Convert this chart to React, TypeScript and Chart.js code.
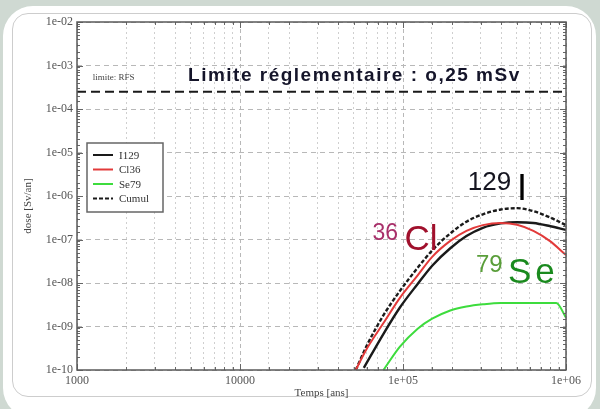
import { useEffect, useRef } from "react";
import { Chart, registerables } from "chart.js";

Chart.register(...registerables);

// ---- Data (time in years, dose in Sv/an) ----
const cumulYears = [51300, 60300, 75900, 95500, 123000, 151000, 195000, 245000, 309000, 398000, 501000, 631000, 794000, 1000000];
const cumulDose = [1.0e-10, 3.8e-10, 1.82e-9, 6.5e-9, 2.24e-8, 5.6e-8, 1.38e-7, 2.57e-7, 3.8e-7, 4.9e-7, 5.25e-7, 4.47e-7, 3.24e-7, 2.14e-7];

const i129Years = [57500, 75900, 95500, 123000, 151000, 195000, 245000, 309000, 398000, 501000, 631000, 794000, 1000000];
const i129Dose = [1.12e-10, 6.8e-10, 2.7e-9, 9.5e-9, 2.5e-8, 6.3e-8, 1.2e-7, 1.86e-7, 2.34e-7, 2.5e-7, 2.4e-7, 2.04e-7, 1.66e-7];

const cl36Years = [51300, 60300, 75900, 95500, 123000, 151000, 195000, 245000, 309000, 398000, 501000, 631000, 794000, 1000000];
const cl36Dose = [1.0e-10, 3.2e-10, 1.2e-9, 4.5e-9, 1.5e-8, 4.0e-8, 9.3e-8, 1.58e-7, 2.14e-7, 2.4e-7, 2.19e-7, 1.58e-7, 9.3e-8, 4.4e-8];

const se79Years = [75900, 95500, 123000, 151000, 195000, 245000, 309000, 398000, 631000, 871000, 1000000];
const se79Dose = [1.0e-10, 3.4e-10, 8.9e-10, 1.51e-9, 2.34e-9, 2.88e-9, 3.24e-9, 3.47e-9, 3.47e-9, 3.47e-9, 1.6e-9];

const limitDose = 2.5e-4;
const limitYears = [1000, 1000000];

const xTickValues = [1000, 10000, 100000, 1000000];
const xTickLabels = ["1000", "10000", "1e+05", "1e+06"];
const yTickValues = [1e-2, 1e-3, 1e-4, 1e-5, 1e-6, 1e-7, 1e-8, 1e-9, 1e-10];
const yTickLabels = ["1e-02", "1e-03", "1e-04", "1e-05", "1e-06", "1e-07", "1e-08", "1e-09", "1e-10"];

const legendLabels = ["I129", "Cl36", "Se79", "Cumul"];

const xTitle = "Temps [ans]";
const yTitle = "dose [Sv/an]";

// annotation texts placed in data coordinates
const annotations = [
  { text: "limite: RFS", x: 1250, y: 5.4e-4, font: '9px "Liberation Serif"', color: "#444", spacing: 0 },
  { text: "Limite réglementaire : o,25 mSv", x: 4800, y: 5.8e-4, font: 'bold 19px "Liberation Sans"', color: "#15152a", spacing: 1.5 },
  { text: "129", x: 250000, y: 2.0e-6, font: '26px "Liberation Sans"', color: "#151520", spacing: 0 },
  { text: "I", x: 500000, y: 1.35e-6, font: '36px "Liberation Sans"', color: "#000", spacing: 0 },
  { text: "36", x: 65000, y: 1.35e-7, font: '23px "Liberation Sans"', color: "#a8306a", spacing: 0 },
  { text: "Cl", x: 102000, y: 9.5e-8, font: '35px "Liberation Sans"', color: "#a0102c", spacing: 0 },
  { text: "79", x: 280000, y: 2.6e-8, font: '24px "Liberation Sans"', color: "#5a9e3a", spacing: 0 },
  { text: "Se", x: 440000, y: 1.7e-8, font: '35px "Liberation Sans"', color: "#1a8a1e", spacing: 4 },
];

const toPoints = (xs: number[], ys: number[]) => xs.map((x, i) => ({ x, y: ys[i] }));

const isDecade = (v: number) => Math.abs(Math.log10(v) - Math.round(Math.log10(v))) < 1e-6;
const findLabel = (v: number, vals: number[], labels: string[]) => {
  for (let i = 0; i < vals.length; i++) if (Math.abs(v / vals[i] - 1) < 1e-6) return labels[i];
  return "";
};

const overlayPlugin = {
  id: "overlay",
  afterDatasetsDraw(chart: any) {
    const { ctx, chartArea: a, scales } = chart;
    const xs = scales.x;
    const ys = scales.y;
    ctx.save();
    // inner ticks
    ctx.strokeStyle = "#666";
    ctx.lineWidth = 1;
    ctx.setLineDash([]);
    ys.ticks.forEach((t: any) => {
      const py = Math.round(ys.getPixelForValue(t.value)) + 0.5;
      const len = isDecade(t.value) ? 6 : 3;
      ctx.beginPath();
      ctx.moveTo(a.left, py);
      ctx.lineTo(a.left + len, py);
      ctx.moveTo(a.right, py);
      ctx.lineTo(a.right - len, py);
      ctx.stroke();
    });
    xs.ticks.forEach((t: any) => {
      const px = Math.round(xs.getPixelForValue(t.value)) + 0.5;
      const len = isDecade(t.value) ? 6 : 3;
      ctx.beginPath();
      ctx.moveTo(px, a.bottom);
      ctx.lineTo(px, a.bottom - len);
      ctx.moveTo(px, a.top);
      ctx.lineTo(px, a.top + len);
      ctx.stroke();
    });
    // frame
    ctx.strokeStyle = "#5a5a5a";
    ctx.lineWidth = 1.5;
    ctx.strokeRect(a.left, a.top, a.right - a.left, a.bottom - a.top);

    // axis titles
    ctx.fillStyle = "#444";
    ctx.font = '11px "Liberation Serif"';
    ctx.textAlign = "center";
    ctx.textBaseline = "middle";
    ctx.fillText(xTitle, (a.left + a.right) / 2, 393);
    ctx.save();
    ctx.translate(28, (a.top + a.bottom) / 2 + 10);
    ctx.rotate(-Math.PI / 2);
    ctx.fillText(yTitle, 0, 0);
    ctx.restore();

    // legend box
    const lx = a.left + 10;
    const ly = a.top + 121;
    const lw = 76;
    const lh = 69;
    ctx.fillStyle = "#fff";
    ctx.fillRect(lx, ly, lw, lh);
    ctx.strokeStyle = "#666";
    ctx.lineWidth = 1.5;
    ctx.strokeRect(lx, ly, lw, lh);
    const legendSets = legendLabels.map((lab) => chart.data.datasets.find((d: any) => d.label === lab));
    legendSets.forEach((ds: any, i: number) => {
      if (!ds) return;
      const ry = ly + 12 + i * 14.5;
      ctx.strokeStyle = ds.borderColor;
      ctx.lineWidth = 2;
      ctx.setLineDash(ds.borderDash || []);
      ctx.beginPath();
      ctx.moveTo(lx + 6, ry);
      ctx.lineTo(lx + 26, ry);
      ctx.stroke();
      ctx.setLineDash([]);
      ctx.fillStyle = "#333";
      ctx.font = '11px "Liberation Serif"';
      ctx.textAlign = "left";
      ctx.textBaseline = "middle";
      ctx.fillText(ds.label, lx + 32, ry + 1);
    });

    // annotations
    annotations.forEach((an) => {
      ctx.font = an.font;
      ctx.fillStyle = an.color;
      ctx.textAlign = "left";
      ctx.textBaseline = "middle";
      (ctx as any).letterSpacing = an.spacing + "px";
      ctx.fillText(an.text, xs.getPixelForValue(an.x), ys.getPixelForValue(an.y));
      (ctx as any).letterSpacing = "0px";
    });
    ctx.restore();
  },
};

export default function App() {
  const ref = useRef<HTMLCanvasElement | null>(null);
  useEffect(() => {
    if (!ref.current) return;
    const line = (label: string, xs: number[], ys: number[], color: string, width: number, dash: number[] = []) => ({
      label,
      data: toPoints(xs, ys),
      borderColor: color,
      backgroundColor: color,
      borderWidth: width,
      borderDash: dash,
      pointRadius: 0,
      showLine: true,
      cubicInterpolationMode: "monotone",
      fill: false,
    });
    const chart = new Chart(ref.current, {
      type: "scatter",
      data: {
        datasets: [
          line("Se79", se79Years, se79Dose, "#3ddc3d", 2),
          line("Cl36", cl36Years, cl36Dose, "#e23a3a", 2),
          line("I129", i129Years, i129Dose, "#1a1a1a", 2.4),
          line("Cumul", cumulYears, cumulDose, "#1a1a1a", 2.4, [4, 2]),
          line("", limitYears, limitYears.map(() => limitDose), "#1a1a1a", 2, [9, 5]),
        ] as any,
      },
      options: {
        responsive: false,
        animation: false,
        layout: { padding: { left: 0, right: 34, top: 22, bottom: 0 } },
        plugins: { legend: { display: false }, tooltip: { enabled: false } },
        scales: {
          x: {
            type: "logarithmic",
            min: 1000,
            max: 1000000,
            afterFit: (s: any) => {
              s.height = 39;
            },
            ticks: {
              autoSkip: false,
              maxRotation: 0,
              padding: 4,
              color: "#555",
              font: { family: '"Liberation Serif"', size: 12 },
              callback: (v: any) => findLabel(Number(v), xTickValues, xTickLabels),
            },
            grid: {
              drawTicks: false,
              lineWidth: 1,
              color: (c: any) => (c.tick && isDecade(c.tick.value) ? "#b8b8b8" : "#cfcfcf"),
            },
            border: {
              display: false,
              dash: (c: any) => (c.tick && isDecade(c.tick.value) ? [4, 3] : [2, 3]),
            },
          } as any,
          y: {
            type: "logarithmic",
            min: 1e-10,
            max: 1e-2,
            afterFit: (s: any) => {
              s.width = 77;
            },
            ticks: {
              autoSkip: false,
              padding: 4,
              color: "#555",
              font: { family: '"Liberation Serif"', size: 12 },
              callback: (v: any) => findLabel(Number(v), yTickValues, yTickLabels),
            },
            grid: {
              drawTicks: false,
              lineWidth: 1,
              color: (c: any) => (c.tick && isDecade(c.tick.value) ? "#b8b8b8" : "rgba(0,0,0,0)"),
            },
            border: {
              display: false,
              dash: [5, 4],
            },
          } as any,
        },
      },
      plugins: [overlayPlugin],
    });
    return () => chart.destroy();
  }, []);

  return (
    <div style={{ position: "fixed", left: 0, top: 0, width: 600, height: 409, background: "#cfd9d2", overflow: "hidden" }}>
      <div style={{ position: "absolute", left: 3, top: 6, width: 593, height: 412, background: "#fff", borderRadius: 30 }} />
      <div
        style={{
          position: "absolute",
          left: 12,
          top: 13,
          width: 578,
          height: 382,
          border: "1.5px solid #cdcdcd",
          borderRadius: 16,
        }}
      />
      <canvas ref={ref} width={600} height={409} style={{ position: "absolute", left: 0, top: 0, display: "block" }} />
    </div>
  );
}
